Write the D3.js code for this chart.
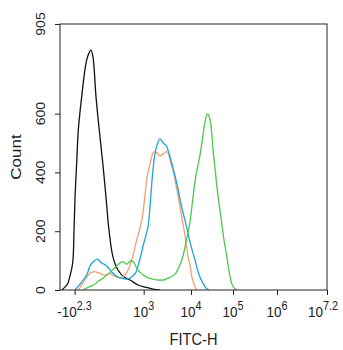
<!DOCTYPE html>
<html>
<head>
<meta charset="utf-8">
<script src="https://cdn.jsdelivr.net/npm/d3@7"></script>
<style>
body{margin:0;background:#fff;}
text{font-family:"Liberation Sans",Arial,sans-serif;fill:#222;}
</style>
</head>
<body>
<div id="chart"></div>
<script>
// FITC-H values and counts
var blackX = [-454,-357,-314,-276,-229,-208,-193,-170,-149,-110,-68,-47,-29,-16,2,22,47,74,103,149,219,329,473,740,1071,1608,2274];
var blackCount = [0,14,24,48,92,204,316,432,544,657,772,803,816,793,657,544,432,316,204,112,68,44,34,17,10,3,0];

var cyanX = [-193,-129,-62,-36,-16,8,39,81,133,219,314,396,522,664,753,869,981,1128,1269,1418,1568,1733,1961,2274,2507,2764,3043,3352,4004,5086,6446,8166,9539,12470,15120,18030,22830,26900];
var cyanCount = [0,20,51,82,95,105,92,82,61,44,39,37,44,61,85,119,153,187,221,306,391,452,493,514,507,497,493,476,432,364,282,214,163,102,58,31,7,0];

var orangeX = [-149,-96,-62,-36,-14,6,27,51,81,114,153,199,253,314,396,522,690,824,950,1071,1187,1383,1608,1776,1961,2274,2671,3150,3433,3690,4262,4690,5407,5946,6857,7536,8804,9539,10270,11170,12470,13920];
var orangeCount = [0,24,44,57,62,61,57,51,51,56,49,44,43,46,61,102,170,211,255,323,381,429,466,471,466,456,463,471,463,442,408,374,320,282,225,184,109,85,51,31,10,0];

var greenX = [-93,-51,-14,14,51,93,153,204,283,329,389,446,522,594,690,824,981,1269,1632,2061,2671,3196,4004,4690,5485,6238,6956,7899,8682,9539,11350,13180,16420,19360,21610,24510,26900,29210,34060,37390,42380,47800,53910,61160,70880,78190,84870,94650,105600,124500];
var greenCount = [0,9,17,29,41,54,71,83,96,94,88,95,100,92,75,60,51,41,37,34,34,39,46,54,73,95,119,163,194,231,323,391,459,527,572,599,592,572,469,415,340,282,228,170,116,75,46,20,7,0];

var xMajor = [-Math.pow(10,2.3), 1e3, 1e4, 1e5, 1e6, Math.pow(10,7.2)];
var xTickBase = ["-10","10","10","10","10","10"];
var xTickExp = ["2.3","3","4","5","6","7.2"];
var yMajor = [0,200,400,600,905];

var W = 343, H = 350;
var L = 60, R = 327, T = 24, B = 290;

var svg = d3.select("#chart").append("svg").attr("width",W).attr("height",H);

var x = d3.scaleSymlog().constant(120)
    .domain([-510, 1e4, 1e5, 1e6, Math.pow(10,7.2)])
    .range([L, 191, 233, 277, R]);
var y = d3.scaleLinear().domain([0,905]).range([B,T]);

// minor ticks
var xMinor = [];
for (var e = 2; e <= 7; e++) {
    for (var k = 1; k <= 9; k++) {
        var v = k*Math.pow(10,e);
        if (v <= Math.pow(10,7.2) && k > 1) xMinor.push(v);
        if (e == 2 && -v >= -510) xMinor.push(-v);
    }
}
var yMinor = d3.range(0,905,200/3).filter(function(d){ return yMajor.indexOf(Math.round(d)) < 0; });

svg.append("defs").append("clipPath").attr("id","clip")
    .append("rect").attr("x",L).attr("y",T).attr("width",R-L).attr("height",B-T);

var gx = svg.append("g").attr("transform","translate(0,"+B+")");
gx.call(d3.axisBottom(x).tickValues(xMinor).tickSize(3).tickFormat(""));
gx.call(d3.axisBottom(x).tickValues(xMajor).tickSize(5).tickFormat(""));
gx.selectAll(".domain").remove();
gx.selectAll("line").attr("stroke","#222");

var gy = svg.append("g").attr("transform","translate("+L+",0)");
gy.call(d3.axisLeft(y).tickValues(yMinor).tickSize(3).tickFormat(""));
gy.call(d3.axisLeft(y).tickValues(yMajor).tickSize(5).tickFormat(""));
gy.selectAll(".domain").remove();
gy.selectAll("line").attr("stroke","#222");

// x tick labels with superscripts
xMajor.forEach(function(v,i){
    var t = svg.append("text")
        .attr("transform","translate("+(x(v)+(i==xMajor.length-1?-4:0))+",317) scale(0.9,1)")
        .attr("text-anchor","middle")
        .style("font-size","15px");
    t.append("tspan").text(xTickBase[i]);
    t.append("tspan").attr("dy",-7).style("font-size","12px").text(xTickExp[i]);
});

// y tick labels, rotated
yMajor.forEach(function(v){
    svg.append("text")
        .attr("transform","translate(45,"+y(v)+") scale(0.88,1) rotate(-90)")
        .attr("text-anchor","middle")
        .style("font-size","14px")
        .text(v);
});

svg.append("text")
    .attr("transform","translate("+((L+R)/2)+",345) scale(0.86,1)")
    .attr("text-anchor","middle")
    .style("font-size","17px")
    .text("FITC-H");

svg.append("text")
    .attr("transform","translate(21,"+((T+B)/2)+") scale(0.86,1) rotate(-90)")
    .attr("text-anchor","middle")
    .style("font-size","17px")
    .text("Count");

var line = d3.line()
    .x(function(d){ return x(d[0]); })
    .y(function(d){ return y(d[1]); })
    .curve(d3.curveCatmullRom.alpha(0.5));

var series = [
    {xs: blackX, ys: blackCount, color: "#111111"},
    {xs: orangeX, ys: orangeCount, color: "#f2a072"},
    {xs: cyanX, ys: cyanCount, color: "#1ea4d6"},
    {xs: greenX, ys: greenCount, color: "#4cc94a"}
];

var plot = svg.append("g").attr("clip-path","url(#clip)");
series.forEach(function(s){
    plot.append("path")
        .datum(d3.zip(s.xs, s.ys))
        .attr("fill","none")
        .attr("stroke",s.color)
        .attr("stroke-width",1.3)
        .attr("d",line);
});

svg.append("rect")
    .attr("x",L).attr("y",T).attr("width",R-L).attr("height",B-T)
    .attr("fill","none").attr("stroke","#222").attr("stroke-width",1);
</script>
</body>
</html>
